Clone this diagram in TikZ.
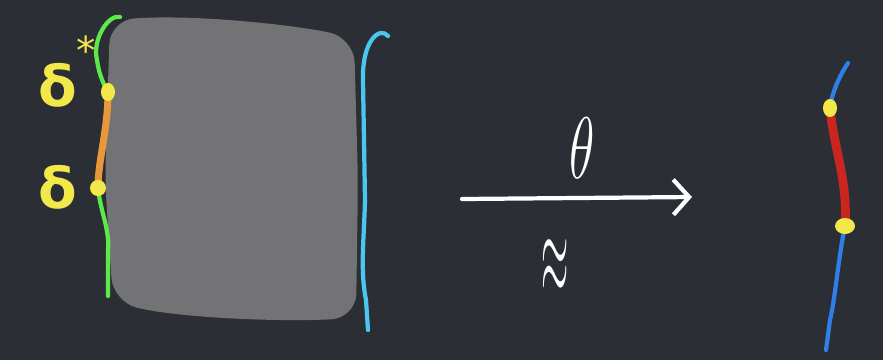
\documentclass[tikz,border=0pt]{standalone}
\usepackage{fontspec}
\usepackage{tikz}
\usetikzlibrary{arrows.meta}
\newfontfamily\handfont{DejaVu Sans}
\definecolor{board}{HTML}{2B2E35}
\definecolor{slab}{HTML}{737375}
\definecolor{lgreen}{HTML}{5EE84A}
\definecolor{lorange}{HTML}{E8973A}
\definecolor{lyellow}{HTML}{F2E84A}
\definecolor{lcyan}{HTML}{4CC6F0}
\definecolor{lblue}{HTML}{2F7FE8}
\definecolor{lred}{HTML}{C8261E}
\tikzset{
  chalk/.style={line width=2.4pt, line cap=round, line join=round},
  blob/.style={fill=lyellow, draw=none},
  lbl/.style={text=lyellow, font=\handfont\bfseries\fontsize{32}{36}\selectfont, inner sep=0pt}
}
\begin{document}
\begin{tikzpicture}[x=0.02cm, y=-0.02cm]
\fill[board] (0,0) rectangle (883,360);
% the grey slab
\fill[slab, rounded corners=14pt] (110,20) .. controls (200,14) and (300,26) .. (354,38)
  -- (358,180) -- (356,318) .. controls (280,322) and (180,318) .. (113,302)
  -- (105,180) -- cycle;
% left boundary
\coordinate (top1) at (108,92);
\coordinate (bot1) at (98,188);
\draw[chalk, lgreen] (120,17) .. controls (108,14) and (92,40) .. (97,60)
  .. controls (99,75) and (104,85) .. (top1);
\draw[chalk, lgreen] (bot1) .. controls (100,210) and (110,230) .. (108,250) -- (108,296);
\draw[chalk, lorange, line width=4pt] (top1) .. controls (108,130) and (98,160) .. (bot1);
\fill[blob] (top1) ellipse (7 and 9);
\fill[blob] (bot1) ellipse (8 and 8);
\node[lbl, anchor=south west] (dstar) at (38,108) {δ\raisebox{0.75em}{\mdseries\fontsize{22}{24}\selectfont*}};
\node[lbl, anchor=south west] (d) at (38,210) {δ};
% right boundary
\draw[chalk, lcyan] (388,36) .. controls (380,26) and (362,40) .. (363,80)
  -- (365,200) .. controls (364,240) and (360,270) .. (366,300) -- (368,330);
% the map
\coordinate (src) at (462,199);
\coordinate (tgt) at (692,197);
\draw[chalk, white, -{Straight Barb[length=9pt, width=20pt, line width=2.4pt]}] (src) -- (tgt);
\node[text=white, font=\Huge, xscale=1.2, yscale=2] (theta) at (582,148) {$\theta$};
\node[text=white, font=\Huge, xscale=0.8, yscale=2.6] (approx) at (555,267) {$\approx$};
% image segment
\coordinate (top2) at (830,108);
\coordinate (bot2) at (845,226);
\draw[chalk, lblue] (848,63) .. controls (840,75) and (832,92) .. (top2);
\draw[chalk, lred, line width=5pt] (top2) .. controls (834,150) and (848,180) .. (bot2);
\draw[chalk, lblue] (bot2) .. controls (838,260) and (835,300) .. (830,320) -- (826,350);
\fill[blob] (top2) ellipse (7 and 9);
\fill[blob] (bot2) ellipse (10 and 8);
\end{tikzpicture}
\end{document}
